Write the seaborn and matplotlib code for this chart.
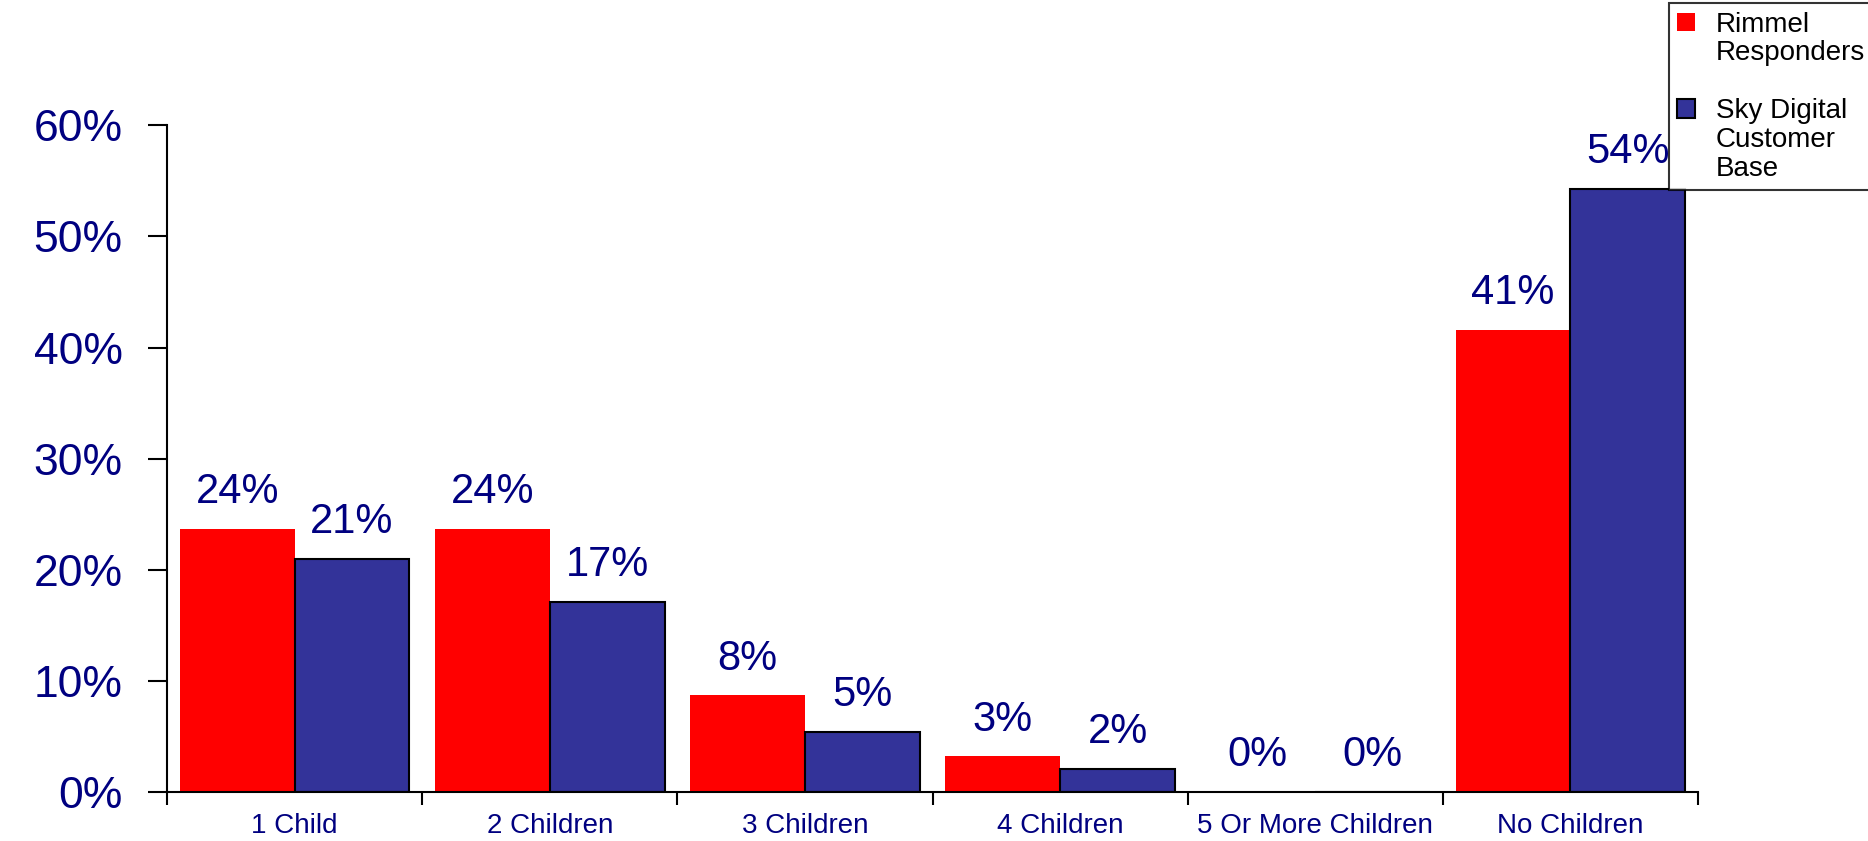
import matplotlib
matplotlib.use("Agg")
import matplotlib.pyplot as plt
from matplotlib.patches import Rectangle
import seaborn as sns
import pandas as pd
import numpy as np

categories = ["1 Child", "2 Children", "3 Children", "4 Children", "5 Or More Children", "No Children"]
series_names = ["Rimmel Responders", "Sky Digital Customer Base"]
legend_lines = [["Rimmel", "Responders"], ["Sky Digital", "Customer", "Base"]]
rimmel = [23.7, 23.7, 8.7, 3.2, 0.0, 41.6]
sky = [21.0, 17.1, 5.4, 2.1, 0.0, 54.3]
rimmel_labels = ["24%", "24%", "8%", "3%", "0%", "41%"]
sky_labels = ["21%", "17%", "5%", "2%", "0%", "54%"]
yticks = [0, 10, 20, 30, 40, 50, 60]
ytick_labels = ["0%", "10%", "20%", "30%", "40%", "50%", "60%"]

colors = ["#FF0000", "#333399"]
navy = "#000080"

sns.set_style("white")
plt.rcParams["font.family"] = ["Liberation Sans", "DejaVu Sans"]
plt.rcParams["text.color"] = "#000000"

df = pd.DataFrame({
    "category": categories * 2,
    "series": [series_names[0]] * len(categories) + [series_names[1]] * len(categories),
    "value": rimmel + sky,
})

fig = plt.figure(figsize=(18.68, 8.41), dpi=100)
ax = fig.add_axes([0.0894, 0.0583, 0.9090 - 0.0894, 0.851 - 0.0583])

sns.barplot(data=df, x="category", y="value", hue="series", order=categories,
            hue_order=series_names, palette=colors, width=0.9, ax=ax,
            saturation=1, legend=False, linewidth=0)

for bar in ax.containers[1]:
    bar.set_edgecolor("#000000")
    bar.set_linewidth(1.5)

for cont, labs in zip(ax.containers, [rimmel_labels, sky_labels]):
    for bar, lab in zip(cont, labs):
        ax.annotate(lab, (bar.get_x() + bar.get_width() / 2, bar.get_height()),
                    xytext=(0, 12), textcoords="offset points",
                    ha="center", va="bottom", fontsize=30, color=navy)

ax.set_xlim(-0.5, len(categories) - 0.5)
ax.set_ylim(0, 60)
ax.set_yticks(yticks)
ax.set_yticklabels(ytick_labels, fontsize=32, color=navy)
ax.tick_params(axis="y", direction="out", length=14, width=1.5, color="#000000", pad=18, left=True)

ax.set_xticks(np.arange(-0.5, len(categories), 1.0))
ax.set_xticklabels([])
ax.tick_params(axis="x", which="major", direction="out", length=9, width=1.5, color="#000000", bottom=True)
ax.set_xticks(range(len(categories)), minor=True)
ax.set_xticklabels(categories, minor=True, fontsize=20, color=navy)
ax.tick_params(axis="x", which="minor", length=0, pad=15)

ax.set_xlabel("")
ax.set_ylabel("")
for side in ["top", "right"]:
    ax.spines[side].set_visible(False)
for side in ["left", "bottom"]:
    ax.spines[side].set_color("#000000")
    ax.spines[side].set_linewidth(1.5)

# legend: marker aligned with the first line of each wrapped label
handles, labels = [], []
blank = Rectangle((0, 0), 1, 1, facecolor="none", edgecolor="none")
for i, lines in enumerate(legend_lines):
    src = ax.containers[i][0]
    h = Rectangle((0, 0), 1, 1, facecolor=src.get_facecolor(),
                  edgecolor="#000000" if i == 1 else "none", linewidth=1.5)
    handles.append(h)
    labels.append(lines[0])
    for ln in lines[1:]:
        handles.append(blank)
        labels.append(ln)
    if i < len(legend_lines) - 1:
        handles.append(blank)
        labels.append(" ")

leg = fig.legend(handles, labels, loc="upper right", bbox_to_anchor=(1.003, 0.996),
                 fontsize=20, frameon=True, fancybox=False, handlelength=0.65,
                 handleheight=0.65, handletextpad=0.75, labelspacing=0.1,
                 borderpad=0.3, borderaxespad=0)
leg._legend_box.sep = 0
leg.get_frame().set_edgecolor("#000000")
leg.get_frame().set_linewidth(1.5)
for t in leg.get_texts():
    t.set_color("#000000")

fig.savefig("out.png", dpi=100)
